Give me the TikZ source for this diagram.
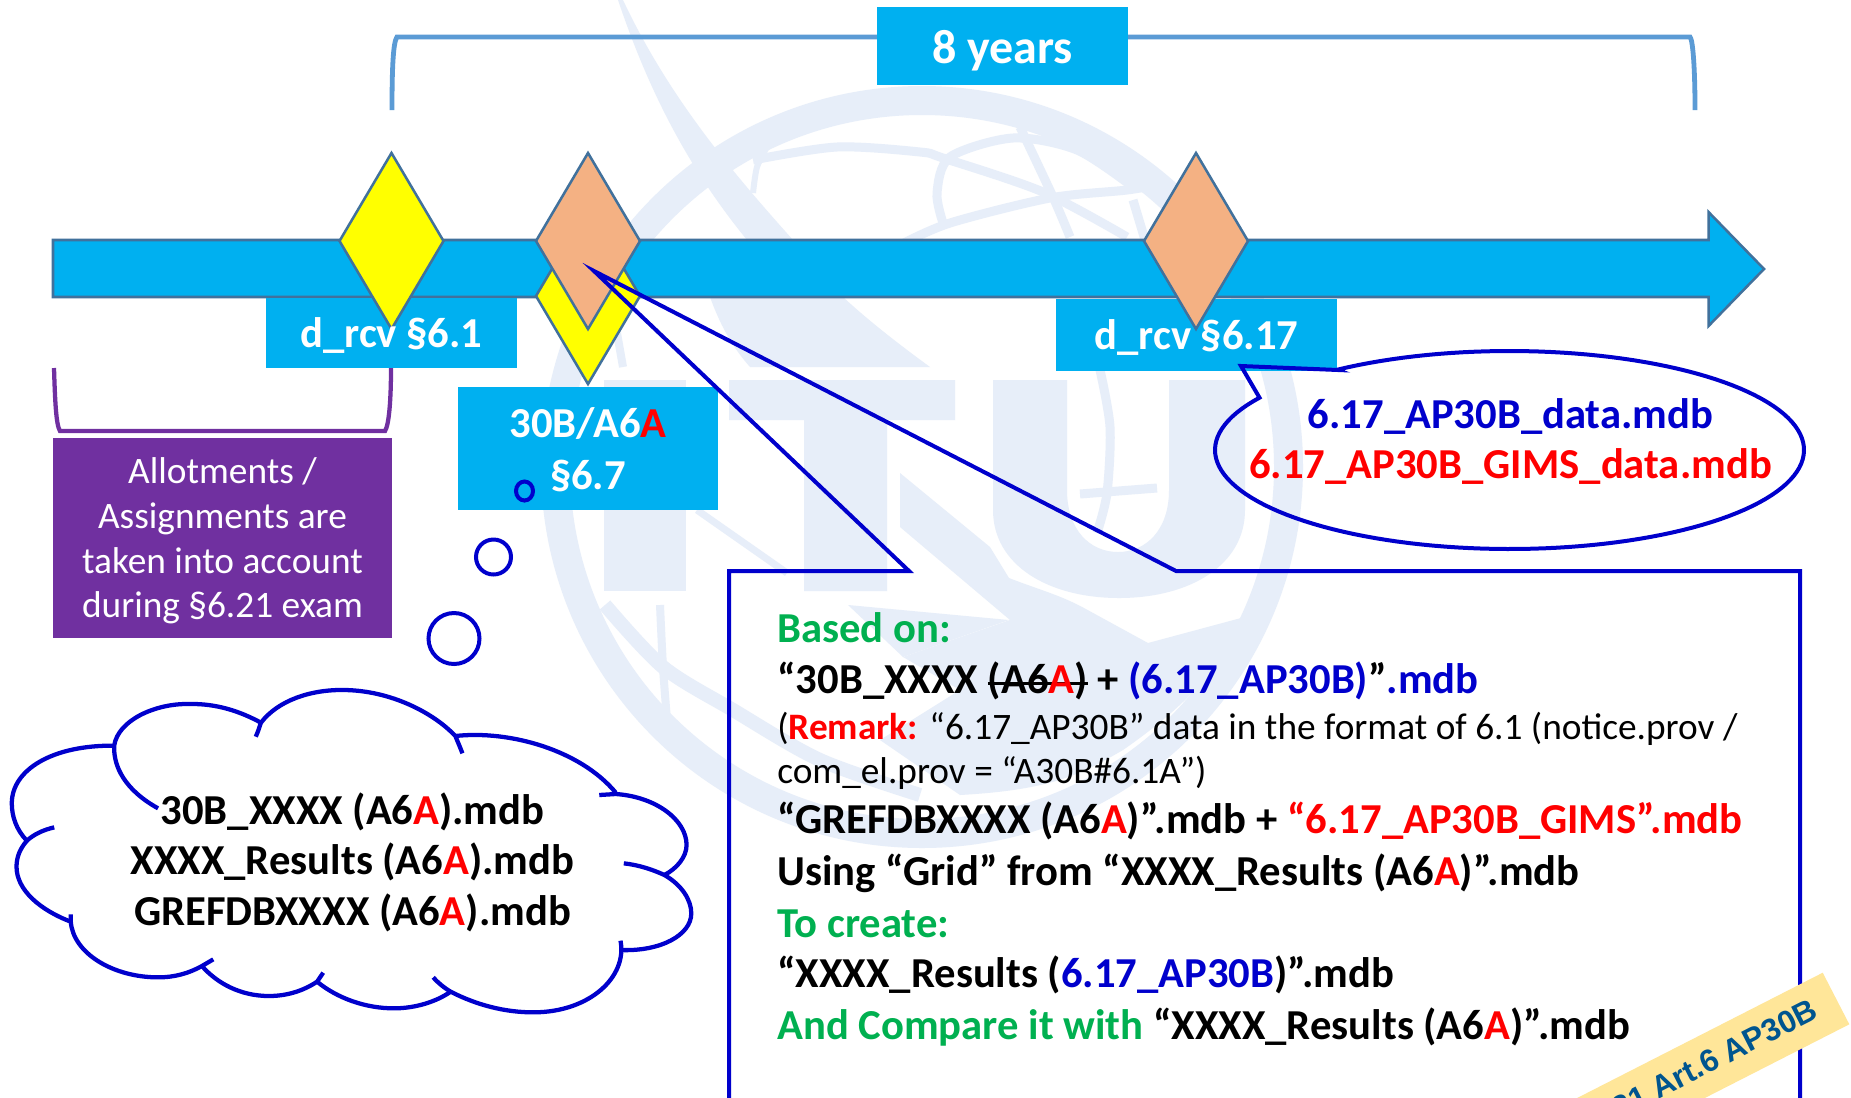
\documentclass[tikz,border=0pt]{standalone}
\usepackage{fontspec}
\setmainfont{Carlito}
\newfontfamily\arialfont{Liberation Sans}
\definecolor{wm}{HTML}{E7EEF9}
\definecolor{sky}{HTML}{00B0F0}
\definecolor{edge}{HTML}{41719C}
\definecolor{gemorange}{HTML}{F4B183}
\definecolor{gemyellow}{HTML}{FFFF00}
\definecolor{plum}{HTML}{7030A0}
\definecolor{brk}{HTML}{5B9BD5}
\definecolor{navy}{HTML}{0000CC}
\definecolor{grn}{HTML}{00B050}
\definecolor{rd}{HTML}{FF0000}
\definecolor{band}{HTML}{FFE699}
\definecolor{bandtxt}{HTML}{00558F}
\newcommand{\redA}{\textcolor{rd}{A}}
\newcommand{\strk}[1]{\setbox0\hbox{#1}\rlap{\rule[0.2em]{\wd0}{0.07em}}\box0\relax}
\newcommand{\bigtxt}{\fontsize{32}{38}\selectfont\bfseries}
\newcommand{\regtxt}{\fontsize{28}{34}\selectfont}
\tikzset{
  wmfill/.style={fill=wm,draw=none},
  wmb/.style={draw=wm,line width=#1*.75pt,line cap=butt},
  skybox/.style={fill=sky,draw=none},
  gemline/.style={draw=edge,line width=1.9pt,line join=miter},
  navyline/.style={draw=navy,line width=3pt,line join=miter},
  cloudline/.style={draw=navy,line width=3.2pt},
  wtxt/.style={text=white,inner sep=0pt,font=\bigtxt},
  ltxt/.style={anchor=base west,inner sep=0pt,font=\bigtxt},
  ctxt/.style={anchor=base,inner sep=0pt,font=\bigtxt},
}
\newcommand{\gem}[3]{\filldraw[gemline,fill=#3] (#1-52,#2) -- (#1,#2-88) -- (#1+52,#2) -- (#1,#2+88) -- cycle;}
\begin{document}
\begin{tikzpicture}[x=.75pt,y=-.75pt]
\useasboundingbox (0,0) rectangle (1851,1097);
\clip (0,0) rectangle (1851,1097);
\fill[white] (0,0) rectangle (1851,1097);
% ---- watermark
\fill[wmfill,even odd rule] (922,467) circle[radius=381] (922,467) circle[radius=352];
\fill[wmfill] (618,0) .. controls (650,95) and (690,170) .. (747,240) -- (793,240) .. controls (735,175) and (670,100) .. (623,0) -- cycle;
\fill[wmfill] (700,280) -- (710,297) .. controls (722,330) and (735,350) .. (750,367) -- (930,367) .. controls (900,345) and (870,322) .. (843,297) -- (830,280) -- cycle;
% I T U letters
\fill[wmfill] (604,380) rectangle (686,591);
\fill[wmfill] (729,380) rectangle (955,420) (804,420) rectangle (887,591);
\fill[wmfill] (993,380) -- (1067,380) -- (1067,490) .. controls (1067,530) and (1090,552) .. (1118,552) .. controls (1146,552) and (1169,530) .. (1169,490) -- (1169,380) -- (1245,380) -- (1245,510) .. controls (1245,565) and (1190,598) .. (1119,598) .. controls (1048,598) and (993,565) .. (993,510) -- cycle;
% swoosh
\fill[wmfill] (900,473) -- (990,547) -- (1009,578) .. controls (1040,590) and (1060,595) .. (1084,608) -- (1148,643) -- (1241,618) .. controls (1225,660) and (1195,700) .. (1123,750) .. controls (1080,775) and (1050,790) .. (960,795) -- (880,740) -- (960,690) -- (903,657) -- (1010,620) -- (900,527) -- cycle;
\fill[wmfill] (848,605) -- (1009,620) -- (903,657) -- cycle;
% bands
\draw[wmb=9] plot[smooth] coordinates {(753,160) (837,147) (920,152) (943,158) (1043,192) (1127,237)};
\draw[wmb=9] plot[smooth] coordinates {(900,245) (950,223) (1050,198) (1127,190) (1167,183)};
\draw[wmb=9] plot[smooth] coordinates {(943,223) (937,193) (950,157) (1013,138) (1077,150) (1133,187)};
\draw[wmb=9] plot[smooth] coordinates {(1020,127) (1053,197) (1070,237)};
\draw[wmb=9] (1133,200) -- (1145,240);
\draw[wmb=6] plot[smooth] coordinates {(753,193) (757,167) (767,147)};
\draw[wmb=9] plot[smooth] coordinates {(1100,370) (1110,427) (1107,493) (1097,533)};
\draw[wmb=9] (1080,494) -- (1157,488);
\draw[wmb=8] plot[smooth] coordinates {(660,605) (663,667) (667,720)};
\draw[wmb=14] plot[smooth] coordinates {(605,605) (663,667) (733,710) (820,760) (920,795)};
\draw[wmb=7] (697,510) -- (787,573);
\draw[wmb=8] (617,333) -- (623,367);
% ---- brackets
\draw[draw=brk,line width=3.6pt] (392,110) .. controls (392,70) and (393,42) .. (397,37) -- (1690,37) .. controls (1693,40) and (1695,70) .. (1695,110);
\draw[draw=plum,line width=3.2pt] (54,368) .. controls (55,400) and (56,425) .. (60,431) -- (385,431) .. controls (389,425) and (391,400) .. (391,368);
% ---- time arrow
\filldraw[gemline,fill=sky] (53,240) -- (1708.5,240) -- (1708.5,212) -- (1764,269) -- (1708.5,326) -- (1708.5,297) -- (53,297) -- cycle;
% ---- boxes
\path[skybox] (877,7) rectangle (1128,85);
\path[skybox] (266,297.5) rectangle (517,368);
\path[skybox] (458,387) rectangle (718,510);
\path[skybox] (1056,299) rectangle (1337,371);
\fill[plum] (53,438) rectangle (392,638);
% ---- diamonds
\gem{391.5}{241}{gemyellow}
\gem{588}{296}{gemyellow}
\gem{588}{241}{gemorange}
\gem{1196}{241}{gemorange}
% ---- labels
\node[wtxt,anchor=base,font=\fontsize{36}{42}\selectfont\bfseries] (years) at (1002.5,63) {8 years};
\node[wtxt,anchor=base] (rcv61) at (391.5,347) {d\_rcv §6.1};
\node[wtxt,anchor=base] (rcv617) at (1196.5,349.5) {d\_rcv §6.17};
\node[wtxt,anchor=base] (p67a) at (588,437.5) {30B/A6\redA};
\node[wtxt,anchor=base] (p67b) at (588,489) {§6.7};
\node[anchor=base,inner sep=0,text=white,font=\regtxt] (al1) at (222.5,483) {Allotments /};
\node[anchor=base,inner sep=0,text=white,font=\regtxt] (al2) at (222.5,528) {Assignments are};
\node[anchor=base,inner sep=0,text=white,font=\regtxt] (al3) at (222.5,573) {taken into account};
\node[anchor=base,inner sep=0,text=white,font=\regtxt] (al4) at (222.5,617.5) {during §6.21 exam};
% ---- thought bubbles
\draw[draw=navy,line width=3pt] (524.5,491) circle[x radius=8.5,y radius=9.5];
\draw[draw=navy,line width=3pt] (493.5,557) circle[radius=17.5];
\draw[draw=navy,line width=3pt] (454,638.5) circle[radius=25.5];
% ---- cloud
\begin{scope}[shift={(0,600)},x=.3539pt,y=-.25pt]
\draw[cloudline] (335,625) .. controls (265,570) and (240,500) .. (242,437) .. controls (250,360) and (330,310) .. (400,312) .. controls (460,310) and (510,335) .. (553,368);
\draw[cloudline] (542,410) .. controls (547,395) and (550,380) .. (553,368) .. controls (590,300) and (660,268) .. (730,270) .. controls (830,272) and (920,340) .. (965,408) .. controls (970,425) and (976,445) .. (980,460);
\draw[cloudline] (965,408) .. controls (1080,390) and (1230,450) .. (1305,578);
\draw[cloudline] (1270,585) -- (1305,582) .. controls (1390,590) and (1455,660) .. (1455,735) .. controls (1455,770) and (1435,805) .. (1408,825);
\draw[cloudline] (1322,790) .. controls (1355,795) and (1385,810) .. (1408,825) .. controls (1445,855) and (1465,900) .. (1465,940) .. controls (1465,1005) and (1400,1055) .. (1315,1050);
\draw[cloudline] (1315,1022) .. controls (1330,1130) and (1250,1237) .. (1130,1237) .. controls (1070,1237) and (1010,1215) .. (955,1175) .. controls (940,1162) and (928,1148) .. (918,1132);
\draw[cloudline] (955,1175) .. controls (925,1205) and (880,1225) .. (835,1225) .. controls (775,1225) and (715,1195) .. (672,1145);
\draw[cloudline] (685,1118) -- (672,1145) .. controls (640,1175) and (605,1188) .. (570,1188) .. controls (510,1188) and (460,1150) .. (428,1098);
\draw[cloudline] (452,1078) -- (428,1098) .. controls (400,1120) and (370,1132) .. (335,1132) .. controls (240,1132) and (155,1060) .. (150,965) -- (150,943);
\draw[cloudline] (150,965) .. controls (85,930) and (35,870) .. (35,800) .. controls (35,770) and (43,745) .. (57,722);
\draw[cloudline] (115,682) .. controls (90,690) and (70,705) .. (57,722) .. controls (35,690) and (25,650) .. (25,610) .. controls (25,510) and (110,435) .. (242,437);
\end{scope}
\node[ctxt] (cl1) at (352.5,824) {30B\_XXXX (A6\redA).mdb};
\node[ctxt] (cl2) at (352.5,874.5) {XXXX\_Results (A6\redA).mdb};
\node[ctxt] (cl3) at (352.5,925.5) {GREFDBXXXX (A6\redA).mdb};
% ---- ellipse callout
\draw[navyline] (1241,366) -- (1338,370) -- plot[domain=125.8:-211.9,samples=140,variable=\t] ({1509.5+294.5*cos(\t)},{450-99*sin(\t)}) -- cycle;
\node[ctxt,text=navy] (e1) at (1510.5,428) {6.17\_AP30B\_data.mdb};
\node[ctxt,text=rd] (e2) at (1510.5,478.5) {6.17\_AP30B\_GIMS\_data.mdb};
% ---- rectangular callout
\draw[navyline] (729,571) -- (909,571) -- (594,271) -- (1176,571) -- (1800,571) -- (1800,1110) -- (729,1110) -- cycle;
\node[ltxt,text=grn] (t1) at (777,642) {Based on:};
\node[ltxt] (t2) at (777,693.5) {“30B\_XXXX \strk{(A6\redA)} + \textcolor{navy}{(6.17\_AP30B)}”\textcolor{navy}{.mdb}};
\node[anchor=base west,inner sep=0,font=\regtxt] (t3) at (777,739.5) {(\textbf{\textcolor{rd}{Remark:}} “6.17\_AP30B” data in the format of 6.1 (notice.prov /};
\node[anchor=base west,inner sep=0,font=\regtxt] (t4) at (777,783.5) {com\_el.prov = “A30B\#6.1A”)};
\node[ltxt] (t5) at (777,833.5) {“GREFDBXXXX (A6\redA)”.mdb + \textcolor{rd}{“6.17\_AP30B\_GIMS”.mdb}};
\node[ltxt] (t6) at (777,885) {Using “Grid” from “XXXX\_Results (A6\redA)”.mdb};
\node[ltxt,text=grn] (t7) at (777,937) {To create:};
\node[ltxt] (t8) at (777,987.5) {“XXXX\_Results (\textcolor{navy}{6.17\_AP30B})”.mdb};
\node[ltxt] (t9) at (777,1039) {\textcolor{grn}{And Compare it with} “XXXX\_Results (A6\redA)”.mdb};
% ---- corner banner
\fill[band] (1822.7,972.7) -- (1849.3,1024.3) -- (1493,1206) -- (1466,1154.7) -- cycle;
\node[anchor=base east,inner sep=0,rotate=27,text=bandtxt,font=\arialfont\fontsize{23.5}{27}\selectfont\bfseries] (bn) at (1820,1017) {21 Art.6 AP30B};
\end{tikzpicture}
\end{document}
